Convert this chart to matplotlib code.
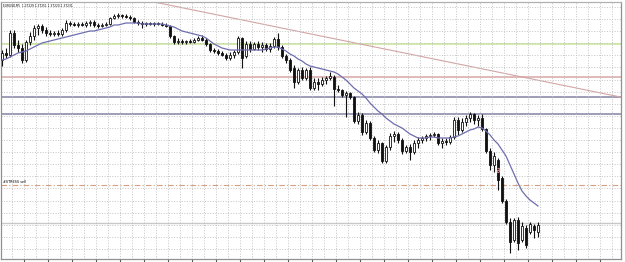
import numpy as np
import matplotlib
matplotlib.use("Agg")
import matplotlib.pyplot as plt

title_text = "EURUSD,M5  1.37229 1.37251 1.37220 1.37231"
level_label = "#STRESS sell"

# EURUSD M5 bars (oldest -> newest)
opens = [
    1.3940, 1.3947, 1.3945, 1.3967, 1.3955, 1.3952, 1.3940, 1.3958, 1.3964, 1.3972,
    1.3974, 1.3970, 1.3967, 1.3966, 1.3967, 1.3966, 1.3970, 1.3977, 1.3976, 1.3975,
    1.3976, 1.3975, 1.3977, 1.3978, 1.3975, 1.3974, 1.3975, 1.3976, 1.3982, 1.3984,
    1.3985, 1.3984, 1.3983, 1.3982, 1.3978, 1.3977, 1.3976, 1.3977, 1.3976, 1.3977,
    1.3976, 1.3975, 1.3974, 1.3964, 1.3958, 1.3959, 1.3958, 1.3959, 1.3958, 1.3960,
    1.3962, 1.3960, 1.3956, 1.3950, 1.3949, 1.3947, 1.3945, 1.3942, 1.3945, 1.3948,
    1.3962, 1.3944, 1.3956, 1.3951, 1.3956, 1.3953, 1.3955, 1.3951, 1.3954, 1.3961,
    1.3953, 1.3944, 1.3940, 1.3932, 1.3918, 1.3930, 1.3922, 1.3930, 1.3912, 1.3918,
    1.3916, 1.3920, 1.3922, 1.3923, 1.3911, 1.3910, 1.3905, 1.3907, 1.3903, 1.3879,
    1.3885, 1.3868, 1.3877, 1.3862, 1.3850, 1.3857, 1.3839, 1.3853, 1.3864, 1.3866,
    1.3860, 1.3849, 1.3853, 1.3848, 1.3857, 1.3860, 1.3862, 1.3864, 1.3865, 1.3866,
    1.3857, 1.3859, 1.3858, 1.3863, 1.3880, 1.3870, 1.3878, 1.3882, 1.3886, 1.3880,
    1.3882, 1.3871, 1.3849, 1.3835, 1.3840, 1.3822, 1.3799, 1.3778, 1.3760, 1.3780,
    1.3760, 1.3772, 1.3768, 1.3774, 1.3768,
]
highs = [
    1.3950, 1.3952, 1.3970, 1.3970, 1.3960, 1.3956, 1.3960, 1.3968, 1.3975, 1.3976,
    1.3976, 1.3973, 1.3970, 1.3969, 1.3970, 1.3972, 1.3980, 1.3979, 1.3978, 1.3978,
    1.3978, 1.3979, 1.3980, 1.3980, 1.3977, 1.3977, 1.3978, 1.3983, 1.3986, 1.3987,
    1.3986, 1.3986, 1.3985, 1.3983, 1.3980, 1.3979, 1.3978, 1.3978, 1.3978, 1.3978,
    1.3978, 1.3977, 1.3975, 1.3965, 1.3962, 1.3961, 1.3960, 1.3961, 1.3962, 1.3964,
    1.3965, 1.3962, 1.3957, 1.3952, 1.3951, 1.3949, 1.3947, 1.3948, 1.3950, 1.3964,
    1.3963, 1.3959, 1.3959, 1.3958, 1.3959, 1.3958, 1.3957, 1.3957, 1.3963, 1.3967,
    1.3955, 1.3946, 1.3942, 1.3935, 1.3932, 1.3933, 1.3932, 1.3933, 1.3922, 1.3922,
    1.3923, 1.3924, 1.3928, 1.3925, 1.3915, 1.3911, 1.3909, 1.3908, 1.3904, 1.3888,
    1.3887, 1.3880, 1.3879, 1.3864, 1.3860, 1.3858, 1.3855, 1.3867, 1.3869, 1.3868,
    1.3862, 1.3855, 1.3856, 1.3860, 1.3863, 1.3864, 1.3866, 1.3867, 1.3868, 1.3867,
    1.3862, 1.3862, 1.3865, 1.3883, 1.3883, 1.3882, 1.3885, 1.3888, 1.3887, 1.3885,
    1.3886, 1.3872, 1.3852, 1.3848, 1.3842, 1.3824, 1.3801, 1.3782, 1.3782, 1.3783,
    1.3778, 1.3775, 1.3778, 1.3776, 1.3778,
]
lows = [
    1.3934, 1.3942, 1.3943, 1.3952, 1.3948, 1.3937, 1.3938, 1.3955, 1.3960, 1.3965,
    1.3967, 1.3964, 1.3964, 1.3964, 1.3964, 1.3964, 1.3968, 1.3974, 1.3974, 1.3973,
    1.3974, 1.3973, 1.3974, 1.3973, 1.3972, 1.3973, 1.3974, 1.3975, 1.3981, 1.3982,
    1.3982, 1.3982, 1.3980, 1.3977, 1.3975, 1.3972, 1.3974, 1.3975, 1.3974, 1.3975,
    1.3974, 1.3973, 1.3962, 1.3956, 1.3956, 1.3956, 1.3956, 1.3957, 1.3957, 1.3959,
    1.3959, 1.3954, 1.3948, 1.3947, 1.3945, 1.3944, 1.3940, 1.3940, 1.3942, 1.3946,
    1.3932, 1.3942, 1.3948, 1.3950, 1.3950, 1.3948, 1.3949, 1.3948, 1.3952, 1.3950,
    1.3942, 1.3937, 1.3928, 1.3912, 1.3916, 1.3920, 1.3920, 1.3910, 1.3910, 1.3910,
    1.3914, 1.3916, 1.3920, 1.3894, 1.3908, 1.3903, 1.3883, 1.3901, 1.3877, 1.3876,
    1.3865, 1.3866, 1.3860, 1.3848, 1.3847, 1.3837, 1.3837, 1.3850, 1.3858, 1.3857,
    1.3846, 1.3847, 1.3840, 1.3846, 1.3852, 1.3857, 1.3859, 1.3860, 1.3863, 1.3855,
    1.3852, 1.3855, 1.3856, 1.3861, 1.3865, 1.3868, 1.3874, 1.3878, 1.3876, 1.3874,
    1.3869, 1.3847, 1.3830, 1.3828, 1.3810, 1.3797, 1.3776, 1.3747, 1.3758, 1.3750,
    1.3758, 1.3752, 1.3766, 1.3762, 1.3763,
]
closes = [
    1.3947, 1.3945, 1.3967, 1.3955, 1.3952, 1.3940, 1.3958, 1.3964, 1.3972, 1.3974,
    1.3970, 1.3967, 1.3966, 1.3967, 1.3966, 1.3970, 1.3977, 1.3976, 1.3975, 1.3976,
    1.3975, 1.3977, 1.3978, 1.3975, 1.3974, 1.3975, 1.3976, 1.3982, 1.3984, 1.3985,
    1.3984, 1.3983, 1.3982, 1.3978, 1.3977, 1.3976, 1.3977, 1.3976, 1.3977, 1.3976,
    1.3975, 1.3974, 1.3964, 1.3958, 1.3959, 1.3958, 1.3959, 1.3958, 1.3960, 1.3962,
    1.3960, 1.3956, 1.3950, 1.3949, 1.3947, 1.3945, 1.3942, 1.3945, 1.3948, 1.3962,
    1.3942, 1.3956, 1.3951, 1.3956, 1.3953, 1.3955, 1.3951, 1.3954, 1.3961, 1.3953,
    1.3944, 1.3940, 1.3930, 1.3918, 1.3930, 1.3922, 1.3930, 1.3912, 1.3918, 1.3916,
    1.3920, 1.3922, 1.3924, 1.3911, 1.3910, 1.3905, 1.3907, 1.3903, 1.3879, 1.3885,
    1.3868, 1.3877, 1.3862, 1.3850, 1.3857, 1.3839, 1.3853, 1.3864, 1.3866, 1.3860,
    1.3849, 1.3853, 1.3848, 1.3857, 1.3860, 1.3862, 1.3864, 1.3865, 1.3866, 1.3857,
    1.3859, 1.3858, 1.3863, 1.3880, 1.3870, 1.3878, 1.3882, 1.3886, 1.3880, 1.3882,
    1.3871, 1.3849, 1.3835, 1.3844, 1.3820, 1.3799, 1.3778, 1.3758, 1.3780, 1.3757,
    1.3774, 1.3755, 1.3776, 1.3770, 1.3775,
]
# moving average
ma = [
    1.3940, 1.3941, 1.3943, 1.3945, 1.3947, 1.3948, 1.3949, 1.3951, 1.3953, 1.3955,
    1.3957, 1.3958, 1.3959, 1.3960, 1.3961, 1.3962, 1.3963, 1.3964, 1.3965, 1.3966,
    1.3967, 1.3968, 1.3969, 1.3969, 1.3970, 1.3971, 1.3972, 1.3973, 1.3975, 1.3975,
    1.3976, 1.3977, 1.3977, 1.3977, 1.3977, 1.3976, 1.3976, 1.3976, 1.3976, 1.3976,
    1.3976, 1.3975, 1.3974, 1.3973, 1.3971, 1.3969, 1.3968, 1.3967, 1.3966, 1.3965,
    1.3964, 1.3962, 1.3959, 1.3956, 1.3954, 1.3952, 1.3951, 1.3950, 1.3950, 1.3950,
    1.3950, 1.3950, 1.3950, 1.3950, 1.3950, 1.3950, 1.3951, 1.3952, 1.3953, 1.3953,
    1.3951, 1.3949, 1.3946, 1.3944, 1.3941, 1.3939, 1.3936, 1.3934, 1.3933, 1.3932,
    1.3931, 1.3930, 1.3929, 1.3928, 1.3926, 1.3923, 1.3920, 1.3916, 1.3912, 1.3909,
    1.3906, 1.3902, 1.3897, 1.3893, 1.3889, 1.3886, 1.3882, 1.3879, 1.3876, 1.3874,
    1.3872, 1.3869, 1.3866, 1.3864, 1.3862, 1.3862, 1.3862, 1.3863, 1.3863, 1.3862,
    1.3862, 1.3862, 1.3862, 1.3863, 1.3864, 1.3866, 1.3868, 1.3870, 1.3871, 1.3873,
    1.3872, 1.3869, 1.3865, 1.3860, 1.3856, 1.3850, 1.3844, 1.3835, 1.3826, 1.3817,
    1.3809, 1.3804, 1.3800, 1.3797, 1.3794,
]

# horizontal levels and the trend line
green_level = 1.3956
red_level = 1.3923
blue_levels = [1.39035, 1.3886]
sell_level = 1.3815
bid_level = 1.3777
trend_x = [38, 154.6]
trend_y = [1.3998, 1.3903]
trade_mark = (124, 1.3830)

n = len(closes)
assert len(opens) == len(highs) == len(lows) == len(ma) == n
x = np.arange(n)
o = np.array(opens); h = np.array(highs); l = np.array(lows); c = np.array(closes)

fig = plt.figure(figsize=(6.25, 2.62), dpi=100)
ax = fig.add_axes([0.5 / 625, 3.5 / 262, 620 / 625, 257 / 262])
ax.set_xlim(-0.375, 154.625)
ax.set_ylim(1.37415, 1.39985)

# grid (MT4 style dotted)
ax.set_yticks(np.arange(1.3993, 1.3740, -0.00121))
ax.set_xticks(np.arange(2.5, 155, 3), minor=True)
ax.set_xticks(np.arange(5.5, 155, 6))
ax.grid(True, which="both", axis="x", color="#c4c4c4", linestyle=":", linewidth=0.7)
ax.grid(True, which="major", axis="y", color="#c4c4c4", linestyle=":", linewidth=0.7)
ax.tick_params(axis="y", length=0, labelleft=False)
ax.tick_params(axis="x", which="major", length=3, width=0.8, color="#555555",
               direction="out", labelbottom=False)
ax.tick_params(axis="x", which="minor", length=0)
for s in ax.spines.values():
    s.set_color("#909090")
    s.set_linewidth(0.9)
ax.spines["top"].set_color("#b0b0b0")

# levels
ax.axhline(green_level, color="#d2eaa4", lw=1.3, zorder=1)
ax.axhline(red_level, color="#d8a6a6", lw=1.1, zorder=1)
for lv in blue_levels:
    ax.axhline(lv, color="#8c8cac", lw=1.2, zorder=1)
ax.axhline(sell_level, color="#d4a080", lw=0.8, linestyle=(0, (5, 2, 1, 2)), zorder=1)
ax.axhline(bid_level, color="#c8c8c8", lw=1.0, zorder=1)
ax.plot(trend_x, trend_y, color="#d4a4a4", lw=0.8, zorder=1)

# candles
up = c >= o
ax.vlines(x, l, h, color="#111111", lw=0.8, zorder=3)
ax.bar(x[up], (c - o)[up], bottom=o[up], width=0.6, color="white",
       edgecolor="#111111", linewidth=0.6, zorder=4)
ax.bar(x[~up], (o - c)[~up], bottom=c[~up], width=0.6, color="#111111",
       edgecolor="#111111", linewidth=0.6, zorder=4)

# moving average
ax.plot(x, ma, color="#6e6eb0", lw=0.9, zorder=5)

ax.plot(*trade_mark, marker="$\\partial$", color="#e08888", markersize=3.5,
        markeredgewidth=0.3, zorder=6)

ax.text(0.004, 0.992, title_text, transform=ax.transAxes, fontsize=2.1,
        va="top", ha="left", color="#000000")
ax.text(0.2, sell_level + 0.00015, level_label, fontsize=2.4, va="bottom",
        ha="left", color="#000000")

fig.savefig("out.png", dpi=100)
